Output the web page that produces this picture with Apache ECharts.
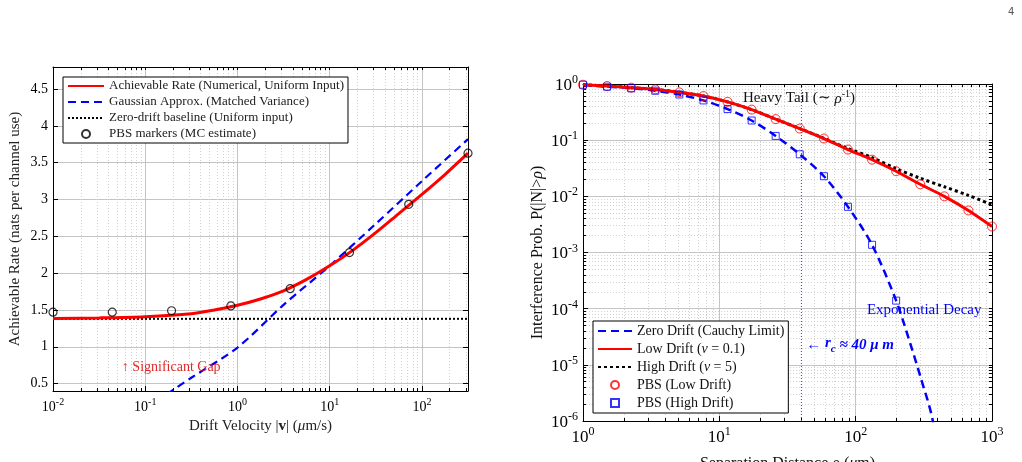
<!DOCTYPE html>
<html>
<head>
<meta charset="utf-8">
<script src="https://cdn.jsdelivr.net/npm/echarts@6/dist/echarts.min.js"></script>
<style>
  html, body { margin: 0; padding: 0; background: #fff; }
  #main { width: 1022px; height: 462px; }
</style>
</head>
<body>
<div id="main"></div>
<script>
// ---- left panel: achievable rate vs drift velocity ----
const driftV = [0.01, 0.0316, 0.1, 0.316, 0.562, 1, 1.778, 3.16, 5.62, 10, 17.78, 31.6, 56.2, 100, 177.8, 316.2];
const rateNumerical = [1.385, 1.393, 1.41, 1.45, 1.50, 1.565, 1.65, 1.76, 1.915, 2.10, 2.31, 2.55, 2.81, 3.07, 3.34, 3.63];
const gaussV = [0.1, 0.316, 1, 3.16, 10, 31.6, 100, 316.2];
const rateGauss = [0.16, 0.58, 0.99, 1.57, 2.10, 2.67, 3.25, 3.82];
const baselineV = [0.01, 316.2];
const rateBaseline = [1.38, 1.38];
const markerV = [0.01, 0.0439, 0.193, 0.848, 3.73, 16.4, 72.0, 316.2];
const rateMC = [1.47, 1.47, 1.49, 1.555, 1.79, 2.28, 2.935, 3.63];
const rateTicks = [0.5, 1, 1.5, 2, 2.5, 3, 3.5, 4, 4.5];
const vDecades = [0.01, 0.1, 1, 10, 100];

// ---- right panel: interference probability vs separation ----
const rhoPBS = [1, 1.502, 2.257, 3.39, 5.09, 7.65, 11.49, 17.26, 25.9, 38.9, 58.5, 87.8, 131.9, 198.1, 297.6, 447.1, 671.6, 1000];
const probLow = [0.97, 0.92, 0.86, 0.80, 0.71, 0.61, 0.48, 0.35, 0.237, 0.161, 0.107, 0.068, 0.045, 0.028, 0.0164, 0.010, 0.0056, 0.0029];
const probHighTail = [0.97, 0.92, 0.86, 0.80, 0.71, 0.61, 0.48, 0.35, 0.237, 0.161, 0.108, 0.071, 0.049, 0.031, 0.021, 0.0148, 0.0104, 0.0071];
const rhoHigh = [1, 1.502, 2.257, 3.39, 5.09, 7.65, 11.49, 17.26, 25.9, 38.9, 58.5, 87.8, 131.9, 198.1];
const probHigh = [0.97, 0.895, 0.84, 0.76, 0.65, 0.51, 0.358, 0.224, 0.119, 0.056, 0.0228, 0.0065, 0.00137, 0.000139];
const rhoDecayTail = [250, 297.6, 368, 447.1];
const probDecayTail = [2.5e-5, 6.3e-6, 1e-6, 2.5e-8];
const rhoDecades = [1, 10, 100, 1000];
const probDecades = [1e-6, 1e-5, 1e-4, 1e-3, 1e-2, 1e-1, 1];
const rCritical = [40, 40];
const rCriticalSpan = [1e-6, 1];

const FONT = 'Liberation Serif';
const GRID_MAJOR = '#c4c4c4';
const GRID_MINOR = '#d2d2d2';
const SQUARE = 'path://M0,0H10V10H0Z';

function zip(xs, ys) { return xs.map((x, i) => [x, ys[i]]); }
function minors(decades) {
  let out = [];
  for (let k = 0; k < decades.length - 1; k++) {
    for (let m = 2; m <= 9; m++) out.push(+(decades[k] * m).toPrecision(6));
  }
  return out;
}
function powLabel(v) {
  const e = Math.round(Math.log10(v));
  return '{b|10}{s|' + e + '}';
}
function powRich(base, sup, raise) {
  return {
    b: { fontFamily: FONT, fontSize: base, color: '#000', verticalAlign: 'bottom' },
    s: { fontFamily: FONT, fontSize: sup, color: '#000', verticalAlign: 'bottom', padding: [0, 0, raise, 0] }
  };
}

const vMinor = minors([0.01, 0.1, 1, 10, 100, 1000]).filter(v => v <= 316.2);
const rhoMinor = minors(rhoDecades);
const probMinor = minors(probDecades);

const frameLine = { show: true, lineStyle: { color: '#000', width: 1 } };

const myChart = echarts.init(document.getElementById('main'));
const option = {
  animation: false,
  backgroundColor: '#fff',
  grid: [
    { left: 53, top: 67, width: 415, height: 324, outerBoundsMode: 'none', containLabel: false },
    { left: 583, top: 84, width: 409, height: 337, outerBoundsMode: 'none', containLabel: false }
  ],
  legend: [
    {
      data: ['Achievable Rate (Numerical, Uniform Input)', 'Gaussian Approx. (Matched Variance)',
             'Zero-drift baseline (Uniform input)', 'PBS markers (MC estimate)'],
      orient: 'vertical', left: 63, top: 77,
      backgroundColor: '#fff', borderColor: '#000', borderWidth: 1, borderRadius: 0,
      padding: [2, 4], itemWidth: 36, itemHeight: 8, itemGap: 2,
      textStyle: { fontFamily: FONT, fontSize: 13, color: '#222', lineHeight: 14 },
      selectedMode: false
    },
    {
      data: ['Zero Drift (Cauchy Limit)', 'Low Drift (v = 0.1)', 'High Drift (v = 5)',
             'PBS (Low Drift)', 'PBS (High Drift)'],
      orient: 'vertical', left: 593, top: 321,
      backgroundColor: '#fff', borderColor: '#000', borderWidth: 1, borderRadius: 0,
      padding: [2, 4], itemWidth: 34, itemHeight: 8, itemGap: 2,
      formatter: function (name) { return name.replace('(v =', '({i|ν} ='); },
      textStyle: { fontFamily: FONT, fontSize: 14, color: '#111', lineHeight: 16,
                   rich: { i: { fontFamily: FONT, fontSize: 14, fontStyle: 'italic', color: '#111' } } },
      selectedMode: false
    }
  ],
  xAxis: [
    { // 0 left bottom, labels + major grid
      type: 'log', gridIndex: 0, min: 0.01, max: 316.2, position: 'bottom',
      name: 'Drift Velocity |{bv|v}| ({i|μ}m/s)', nameLocation: 'middle', nameGap: 28,
      nameTextStyle: { fontFamily: FONT, fontSize: 15, color: '#222',
        rich: { bv: { fontFamily: FONT, fontSize: 15, fontWeight: 'bold', color: '#222' },
                i: { fontFamily: FONT, fontSize: 15, fontStyle: 'italic', color: '#222' } } },
      axisLine: frameLine,
      axisTick: { show: true, inside: true, length: 5, customValues: vDecades, lineStyle: { color: '#000' } },
      axisLabel: { customValues: vDecades, formatter: powLabel, margin: 6, rich: powRich(14, 10, 7) },
      splitLine: { show: true, lineStyle: { color: GRID_MAJOR, width: 1 } }
    },
    { // 1 left bottom minor
      type: 'log', gridIndex: 0, min: 0.01, max: 316.2, position: 'bottom',
      axisLine: { show: false },
      axisTick: { show: true, inside: true, length: 3, customValues: vMinor, lineStyle: { color: '#000' } },
      axisLabel: { show: false },
      splitLine: { show: true, lineStyle: { color: GRID_MINOR, width: 1, type: [1, 2] } }
    },
    { // 2 left top frame
      type: 'log', gridIndex: 0, min: 0.01, max: 316.2, position: 'top',
      axisLine: frameLine,
      axisTick: { show: true, inside: true, length: 3, customValues: vDecades.concat(vMinor), lineStyle: { color: '#000' } },
      axisLabel: { show: false }, splitLine: { show: false }
    },
    { // 3 right bottom, labels + major grid
      type: 'log', gridIndex: 1, min: 1, max: 1000, position: 'bottom',
      name: 'Separation Distance {i|ρ} ({i|μ}m)', nameLocation: 'middle', nameGap: 35,
      nameTextStyle: { fontFamily: FONT, fontSize: 16, color: '#111',
        rich: { i: { fontFamily: FONT, fontSize: 16, fontStyle: 'italic', color: '#111' } } },
      axisLine: frameLine,
      axisTick: { show: true, inside: true, length: 5, customValues: rhoDecades, lineStyle: { color: '#000' } },
      axisLabel: { customValues: rhoDecades, formatter: powLabel, margin: 5, rich: powRich(17, 12, 8) },
      splitLine: { show: true, lineStyle: { color: GRID_MAJOR, width: 1 } }
    },
    { // 4 right bottom minor
      type: 'log', gridIndex: 1, min: 1, max: 1000, position: 'bottom',
      axisLine: { show: false },
      axisTick: { show: true, inside: true, length: 3, customValues: rhoMinor, lineStyle: { color: '#000' } },
      axisLabel: { show: false },
      splitLine: { show: true, lineStyle: { color: GRID_MINOR, width: 1, type: [1, 2] } }
    },
    { // 5 right top frame
      type: 'log', gridIndex: 1, min: 1, max: 1000, position: 'top',
      axisLine: frameLine,
      axisTick: { show: true, inside: true, length: 3, customValues: rhoDecades.concat(rhoMinor), lineStyle: { color: '#000' } },
      axisLabel: { show: false }, splitLine: { show: false }
    }
  ],
  yAxis: [
    { // 0 left rate axis
      type: 'value', gridIndex: 0, min: 0.4, max: 4.8, position: 'left',
      name: 'Achievable Rate (nats per channel use)', nameLocation: 'middle', nameGap: 30,
      nameTextStyle: { fontFamily: FONT, fontSize: 15, color: '#222' },
      axisLine: frameLine,
      axisTick: { show: true, inside: true, length: 5, customValues: rateTicks, lineStyle: { color: '#000' } },
      axisLabel: { customValues: rateTicks, margin: 5, fontFamily: FONT, fontSize: 14, color: '#000' },
      splitLine: { show: true, lineStyle: { color: GRID_MAJOR, width: 1 } }
    },
    { // 1 left right-frame
      type: 'value', gridIndex: 0, min: 0.4, max: 4.8, position: 'right',
      axisLine: frameLine,
      axisTick: { show: true, inside: true, length: 5, customValues: rateTicks, lineStyle: { color: '#000' } },
      axisLabel: { show: false }, splitLine: { show: false }
    },
    { // 2 right prob axis
      type: 'log', gridIndex: 1, min: 1e-6, max: 1, position: 'left',
      name: 'Interference Prob. P(|N|>{i|ρ})', nameLocation: 'middle', nameGap: 37,
      nameTextStyle: { fontFamily: FONT, fontSize: 16, color: '#111',
        rich: { i: { fontFamily: FONT, fontSize: 16, fontStyle: 'italic', color: '#111' } } },
      axisLine: frameLine,
      axisTick: { show: true, inside: true, length: 5, customValues: probDecades, lineStyle: { color: '#000' } },
      axisLabel: { customValues: probDecades, formatter: powLabel, margin: 5, rich: powRich(17, 12, 8) },
      splitLine: { show: true, lineStyle: { color: GRID_MAJOR, width: 1 } }
    },
    { // 3 right prob minor
      type: 'log', gridIndex: 1, min: 1e-6, max: 1, position: 'left',
      axisLine: { show: false },
      axisTick: { show: true, inside: true, length: 3, customValues: probMinor, lineStyle: { color: '#000' } },
      axisLabel: { show: false },
      splitLine: { show: true, lineStyle: { color: GRID_MINOR, width: 1, type: [1, 2] } }
    },
    { // 4 right right-frame
      type: 'log', gridIndex: 1, min: 1e-6, max: 1, position: 'right',
      axisLine: frameLine,
      axisTick: { show: true, inside: true, length: 3, customValues: probDecades.concat(probMinor), lineStyle: { color: '#000' } },
      axisLabel: { show: false }, splitLine: { show: false }
    }
  ],
  series: [
    {
      name: 'Achievable Rate (Numerical, Uniform Input)', type: 'line', xAxisIndex: 0, yAxisIndex: 0,
      data: zip(driftV, rateNumerical), smooth: 0.3, symbol: 'none',
      lineStyle: { color: '#ff0000', width: 3 }, itemStyle: { color: '#ff0000', opacity: 0 }, z: 4
    },
    {
      name: 'Gaussian Approx. (Matched Variance)', type: 'line', xAxisIndex: 0, yAxisIndex: 0,
      data: zip(gaussV, rateGauss), smooth: 0.3, symbol: 'none',
      lineStyle: { color: '#0000ff', width: 2.2, type: [8, 5] }, itemStyle: { color: '#0000ff', opacity: 0 }, z: 3
    },
    {
      name: 'Zero-drift baseline (Uniform input)', type: 'line', xAxisIndex: 0, yAxisIndex: 0,
      data: zip(baselineV, rateBaseline), symbol: 'none',
      lineStyle: { color: '#000', width: 2, type: [2, 2] }, itemStyle: { color: '#000', opacity: 0 }, z: 3
    },
    {
      name: 'PBS markers (MC estimate)', type: 'scatter', xAxisIndex: 0, yAxisIndex: 0,
      data: zip(markerV, rateMC), symbol: 'circle', symbolSize: 8, clip: false,
      itemStyle: { color: 'rgba(0,0,0,0)', borderColor: '#000', borderWidth: 1.2 }, z: 5
    },
    {
      name: 'r_c', type: 'line', xAxisIndex: 3, yAxisIndex: 2,
      data: zip(rCritical, rCriticalSpan), symbol: 'none', silent: true,
      lineStyle: { color: '#3a3aff', width: 1, type: [1, 2] }, z: 2
    },
    {
      name: 'Zero Drift (Cauchy Limit)', type: 'line', xAxisIndex: 3, yAxisIndex: 2,
      data: zip(rhoHigh.concat(rhoDecayTail), probHigh.concat(probDecayTail)), smooth: 0.3, symbol: 'none',
      lineStyle: { color: '#0000ff', width: 2.5, type: [8, 5] }, itemStyle: { color: '#0000ff', opacity: 0 }, z: 3
    },
    {
      name: 'Low Drift (v = 0.1)', type: 'line', xAxisIndex: 3, yAxisIndex: 2,
      data: zip(rhoPBS, probLow), smooth: 0.3, symbol: 'none',
      lineStyle: { color: '#ff0000', width: 3 }, itemStyle: { color: '#ff0000', opacity: 0 }, z: 4
    },
    {
      name: 'High Drift (v = 5)', type: 'line', xAxisIndex: 3, yAxisIndex: 2,
      data: zip(rhoPBS, probHighTail), smooth: 0.3, symbol: 'none',
      lineStyle: { color: '#000', width: 3, type: [3, 3] }, itemStyle: { color: '#000', opacity: 0 }, z: 3
    },
    {
      name: 'PBS (Low Drift)', type: 'scatter', xAxisIndex: 3, yAxisIndex: 2,
      data: zip(rhoPBS, probLow), symbol: 'circle', symbolSize: 9, clip: false,
      itemStyle: { color: 'rgba(0,0,0,0)', borderColor: '#ff0000', borderWidth: 1 }, z: 5
    },
    {
      name: 'PBS (High Drift)', type: 'scatter', xAxisIndex: 3, yAxisIndex: 2,
      data: zip(rhoHigh, probHigh), symbol: SQUARE, symbolSize: 7, symbolKeepAspect: true, clip: false,
      itemStyle: { color: 'rgba(0,0,0,0)', borderColor: '#0000ff', borderWidth: 1 }, z: 5
    }
  ]
};
myChart.setOption(option);

// annotations anchored to data coordinates
const pGap = myChart.convertToPixel({ xAxisIndex: 0, yAxisIndex: 0 }, [0.0558, 0.72]);
const pTail = myChart.convertToPixel({ xAxisIndex: 3, yAxisIndex: 2 }, [14.9, 0.556]);
const pRc = myChart.convertToPixel({ xAxisIndex: 3, yAxisIndex: 2 }, [43.4, 2.2e-5]);
const pDecay = myChart.convertToPixel({ xAxisIndex: 3, yAxisIndex: 2 }, [121, 9.5e-5]);

myChart.setOption({
  graphic: [
    { type: 'text', x: 1008, y: 7, style: { text: '4', font: '10px "DejaVu Sans"', fill: '#555' } },
    { type: 'text', x: pGap[0], y: pGap[1], z: 10,
      style: { text: '↑ Significant Gap', font: '14px "Liberation Serif"', fill: '#e02828', verticalAlign: 'middle' } },
    { type: 'text', x: pTail[0], y: pTail[1], z: 10,
      style: { text: 'Heavy Tail (∼ {i|ρ}{s|-1})', font: '15px "Liberation Serif"', fill: '#111', verticalAlign: 'middle',
        rich: { i: { font: 'italic 15px "Liberation Serif"', fill: '#111', verticalAlign: 'bottom' },
                s: { font: '10px "Liberation Serif"', fill: '#111', verticalAlign: 'bottom', padding: [0, 0, 7, 0] } } } },
    { type: 'text', x: pRc[0], y: pRc[1], z: 10,
      style: { text: '← {b|r}{c|c} ≈ 40 μ m', font: 'italic bold 15px "Liberation Serif"', fill: '#0000ff', verticalAlign: 'middle',
        rich: { b: { font: 'italic bold 15px "Liberation Serif"', fill: '#0000ff', verticalAlign: 'top' },
                c: { font: 'italic bold 11px "Liberation Serif"', fill: '#0000ff', verticalAlign: 'top', padding: [8, 0, 0, 0] } } } },
    { type: 'text', x: pDecay[0], y: pDecay[1], z: 10,
      style: { text: 'Exponential Decay', font: '15px "Liberation Serif"', fill: '#0000ff', verticalAlign: 'middle' } }
  ]
});
</script>
</body>
</html>
